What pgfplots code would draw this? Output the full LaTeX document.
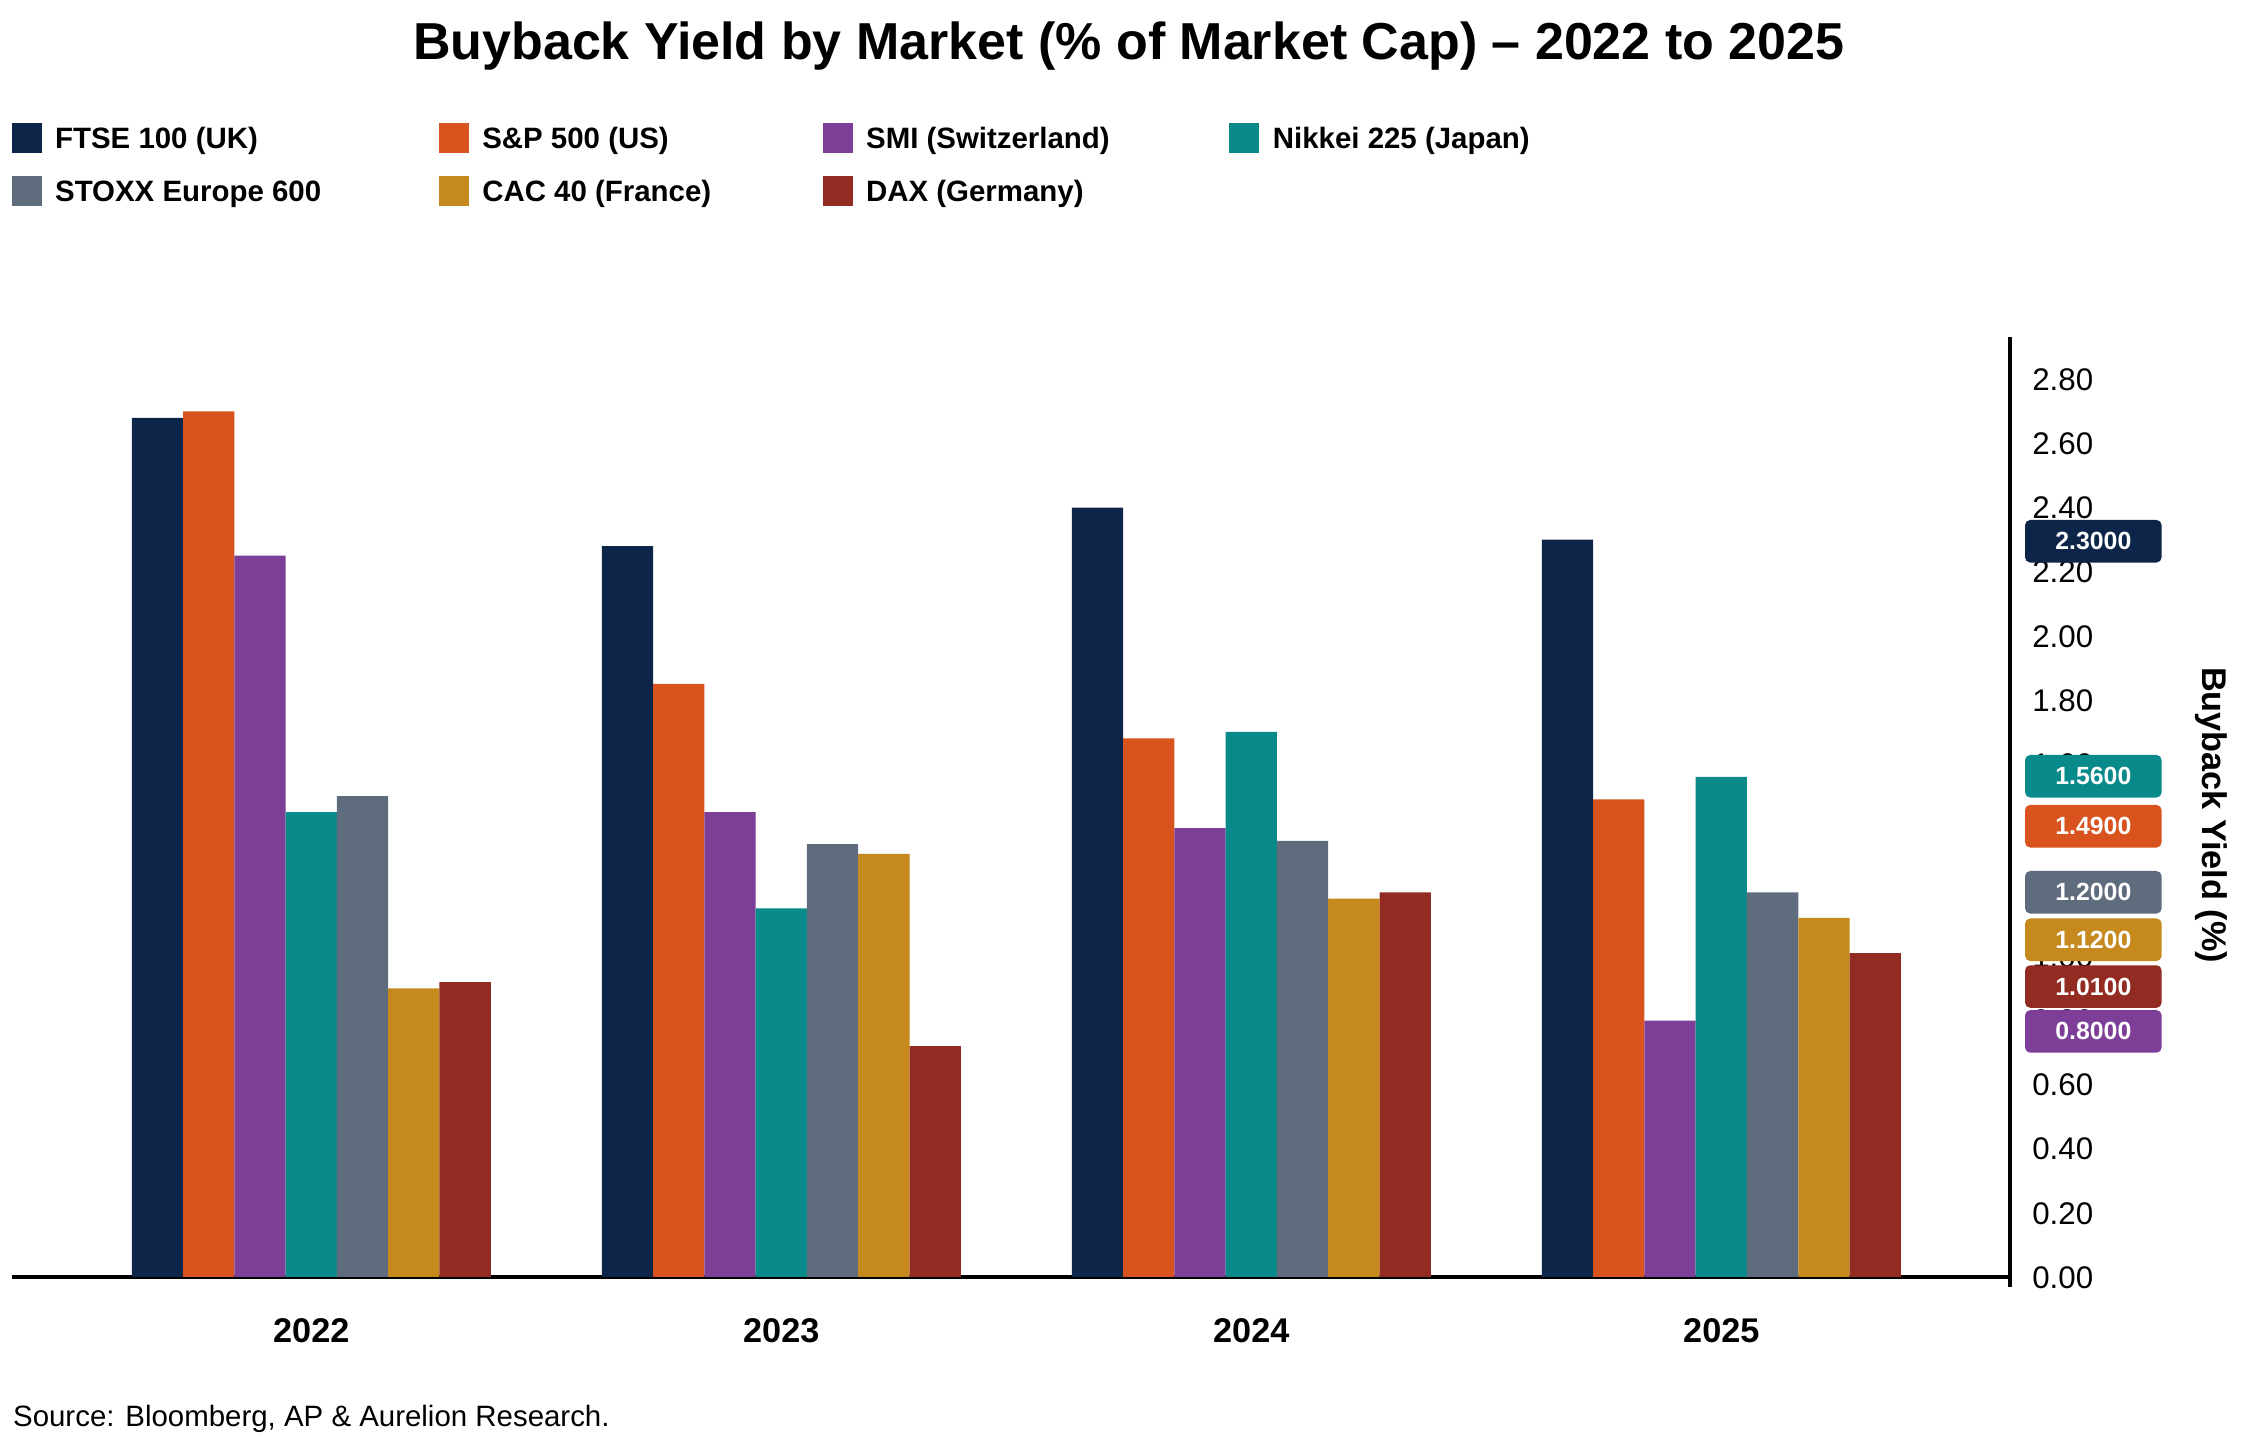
\documentclass[border=0pt]{standalone}
\usepackage{pgfplots}
\pgfplotsset{compat=1.18}
\usepackage{fontspec}
\setmainfont{Liberation Sans}
\definecolor{cFTSE}{HTML}{0C2548}
\definecolor{cSP}{HTML}{D9531E}
\definecolor{cSMI}{HTML}{7D3E98}
\definecolor{cNIK}{HTML}{088A8A}
\definecolor{cSTX}{HTML}{5E6C7E}
\definecolor{cCAC}{HTML}{C5891E}
\definecolor{cDAX}{HTML}{922B21}
\pgfplotsset{sqlegend/.style={legend image code/.code={\fill[##1] (0pt,-5.25pt) rectangle (10.5pt,5.25pt);}}}
\begin{document}
\begin{tikzpicture}
\useasboundingbox (0,0) rectangle (787.15pt,502.95pt);
\begin{axis}[
  at={(4.1pt,56pt)}, anchor=south west,
  scale only axis, width=699.4pt, height=329.1pt,
  xmin=-0.6374, xmax=3.6142, ymin=0, ymax=2.933,
  ybar=0pt, bar width=0.1091,
  clip=false,
  axis x line=bottom, axis y line=right,
  axis line style={-, line width=1.2pt, black},
  y axis line style={shorten <=-3.5pt},
  major tick length=0pt, tick style={draw=none},
  xtick={0,1,2,3}, xticklabels={2022,2023,2024,2025},
  xticklabel style={font=\bfseries\fontsize{12}{14}\selectfont, inner sep=0pt, text height=8.6pt, text depth=0pt, anchor=north, yshift=-14pt},
  ytick={0,0.2,0.4,0.6,0.8,1.0,1.2,1.4,1.6,1.8,2.0,2.2,2.4,2.6,2.8},
  yticklabel style={font=\fontsize{10.95}{13}\selectfont, anchor=west, inner sep=0pt, text height=7.84pt, text depth=0pt, xshift=7.6pt,
    /pgf/number format/fixed, /pgf/number format/fixed zerofill, /pgf/number format/precision=2, /pgf/number format/assume math mode=true},
  ylabel={Buyback Yield (\%)},
  every axis y label/.style={at={(rel axis cs:1,0.5)}, anchor=center, xshift=70.4pt, yshift=-2.85pt, rotate=-90, font=\bfseries\fontsize{12}{14}\selectfont},
  legend columns=4, legend cell align=left,
  legend style={at={(0,1.2277)}, anchor=north west, draw=none, fill=none, inner sep=0pt, outer sep=0pt,
    row sep=8.17pt, font=\bfseries\fontsize{10.3}{12}\selectfont,
    nodes={inner sep=0pt, text height=7.4pt, text depth=0pt},
    /tikz/column 1/.style={column sep=4.7pt},
    /tikz/column 3/.style={column sep=4.7pt},
    /tikz/column 5/.style={column sep=4.7pt},
    /tikz/column 7/.style={column sep=4.7pt},
    /tikz/column 2/.style={column sep=41.2pt},
    /tikz/column 4/.style={column sep=39pt},
    /tikz/column 6/.style={column sep=41.9pt}},
]
\addplot[fill=cFTSE, draw=none, bar shift=-0.3273, sqlegend] coordinates {(0,2.68) (1,2.28) (2,2.40) (3,2.30)};
\addlegendentry{FTSE 100 (UK)}
\addplot[fill=cSP, draw=none, bar shift=-0.2182, sqlegend] coordinates {(0,2.70) (1,1.85) (2,1.68) (3,1.49)};
\addlegendentry{S\&P 500 (US)}
\addplot[fill=cSMI, draw=none, bar shift=-0.1091, sqlegend] coordinates {(0,2.25) (1,1.45) (2,1.40) (3,0.80)};
\addlegendentry{SMI (Switzerland)}
\addplot[fill=cNIK, draw=none, bar shift=0, sqlegend] coordinates {(0,1.45) (1,1.15) (2,1.70) (3,1.56)};
\addlegendentry{Nikkei 225 (Japan)}
\addplot[fill=cSTX, draw=none, bar shift=0.1091, sqlegend] coordinates {(0,1.50) (1,1.35) (2,1.36) (3,1.20)};
\addlegendentry{STOXX Europe 600}
\addplot[fill=cCAC, draw=none, bar shift=0.2182, sqlegend] coordinates {(0,0.90) (1,1.32) (2,1.18) (3,1.12)};
\addlegendentry{CAC 40 (France)}
\addplot[fill=cDAX, draw=none, bar shift=0.3273, sqlegend] coordinates {(0,0.92) (1,0.72) (2,1.20) (3,1.01)};
\addlegendentry{DAX (Germany)}
\coordinate (bA) at (axis cs:3.7915,2.295);
\coordinate (bB) at (axis cs:3.7915,1.562);
\coordinate (bC) at (axis cs:3.7915,1.406);
\coordinate (bD) at (axis cs:3.7915,1.200);
\coordinate (bE) at (axis cs:3.7915,1.052);
\coordinate (bF) at (axis cs:3.7915,0.906);
\coordinate (bG) at (axis cs:3.7915,0.766);
\end{axis}
\tikzset{badge/.style={rounded corners=1.8pt, minimum width=47.8pt, minimum height=14.9pt, inner sep=0pt, text=white, font=\bfseries\fontsize{8.7}{10}\selectfont}}
\node[badge, fill=cFTSE] at (bA) {2.3000};
\node[badge, fill=cNIK] at (bB) {1.5600};
\node[badge, fill=cSP] at (bC) {1.4900};
\node[badge, fill=cSTX] at (bD) {1.2000};
\node[badge, fill=cCAC] at (bE) {1.1200};
\node[badge, fill=cDAX] at (bF) {1.0100};
\node[badge, fill=cSMI] at (bG) {0.8000};
\node[anchor=base, inner sep=0pt, font=\bfseries\fontsize{18.2}{22}\selectfont] at (395.1pt,482.2pt) {Buyback Yield by Market (\% of Market Cap) – 2022 to 2025};
\node[anchor=base west, inner sep=0pt, font=\fontsize{10.3}{12}\selectfont] at (4.4pt,3.6pt) {Source: Bloomberg, AP \& Aurelion Research.};
\end{tikzpicture}
\end{document}
